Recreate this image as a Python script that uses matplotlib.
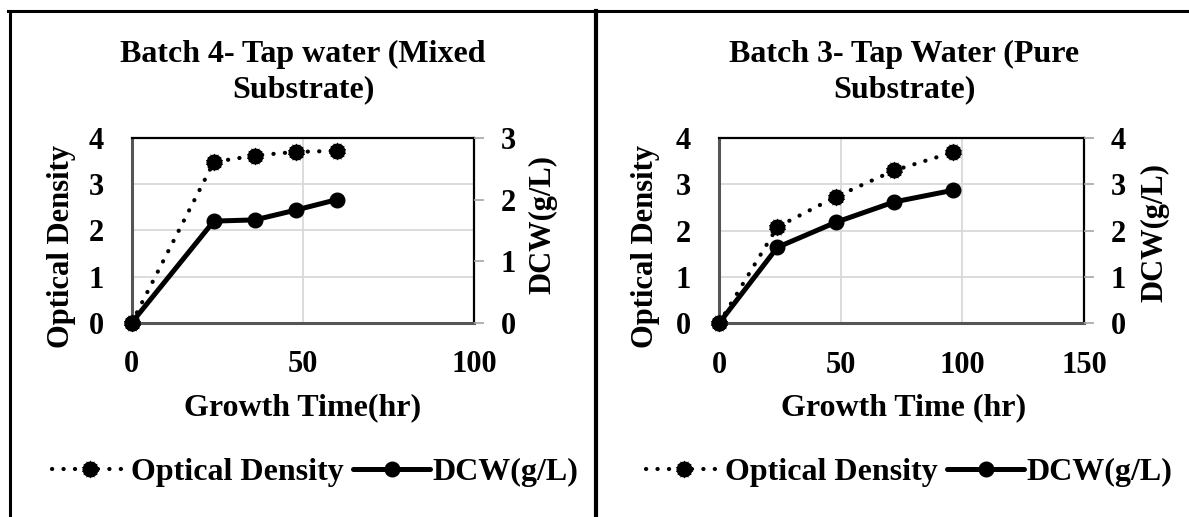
import matplotlib
matplotlib.use("Agg")
import matplotlib.pyplot as plt
from matplotlib.lines import Line2D

plt.rcParams['font.family'] = ['Liberation Serif', 'DejaVu Serif']
plt.rcParams['font.weight'] = 'bold'

# ---------------- data ----------------
time_b4 = [0, 24, 36, 48, 60]
od_b4 = [0, 3.48, 3.62, 3.70, 3.72]
dcw_b4 = [0, 1.65, 1.67, 1.83, 2.00]

time_b3 = [0, 24, 48, 72, 96]
od_b3 = [0, 2.08, 2.73, 3.30, 3.69]
dcw_b3 = [0, 1.64, 2.18, 2.62, 2.87]

title_b4 = ["Batch 4- Tap water (Mixed", "Substrate)"]
title_b3 = ["Batch 3- Tap Water (Pure", "Substrate)"]
xlabel_b4 = "Growth Time(hr)"
xlabel_b3 = "Growth Time (hr)"
od_label = "Optical Density"
dcw_label = "DCW(g/L)"

W, H = 1189, 517
fig = plt.figure(figsize=(W / 100, H / 100), dpi=100)


def fx(x):
    return x / W


def fy(y):
    return 1 - y / H


TICK_FS = 22
LAB_FS = 23
ROT_FS = 22
TITLE_FS = 23

od_line = dict(color='black', lw=3.0, linestyle=(0, (0.05, 2.7)),
               dash_capstyle='round', marker='o', ms=10.5, mfc='black',
               mec='black', clip_on=False)
od_star = dict(color='black', linestyle='none', marker=(14, 1, 0), ms=12.5,
               mfc='black', mec='black', mew=0.4, clip_on=False)
dcw_style = dict(color='black', lw=3.6, linestyle='-', marker='o', ms=10.5,
                 mfc='black', mec='black', clip_on=False,
                 solid_capstyle='round')


def panel(x0, x1, y0, y1, t, od, dcw, xmax, rmax, titles, xlabel, cx,
          ylab_x, ylab_y, rlab_x, rlab_y, leg_cx):
    ax = fig.add_axes([fx(x0), fy(y1), fx(x1 - x0), (y1 - y0) / H])
    ax.set_xlim(0, xmax)
    ax.set_ylim(0, 4)
    ax.set_xticks(list(range(0, xmax + 1, 50)))
    ax.set_yticks([0, 1, 2, 3, 4])
    ax.grid(True, color='#d9d9d9', lw=1.3)
    ax.set_axisbelow(True)
    ax.tick_params(axis='y', length=0, pad=20, labelsize=TICK_FS)
    ax.tick_params(axis='x', length=0, pad=20, labelsize=TICK_FS)
    for s in ['left', 'bottom']:
        ax.spines[s].set_color('#555555')
        ax.spines[s].set_linewidth(2.2)
    for s in ['top', 'right']:
        ax.spines[s].set_color('black')
        ax.spines[s].set_linewidth(1.6)
    ax.plot(t, od, zorder=3, **od_line)
    ax.plot(t, od, zorder=3, **od_star)

    axr = ax.twinx()
    axr.set_ylim(0, rmax)
    axr.set_yticks(list(range(0, rmax + 1)))
    axr.tick_params(axis='y', length=7, width=1.2, color='#a6a6a6',
                    direction='out', pad=12, labelsize=TICK_FS)
    for s in axr.spines.values():
        s.set_visible(False)
    axr.plot(t, dcw, zorder=4, **dcw_style)

    for lab in ax.get_xticklabels() + ax.get_yticklabels() + axr.get_yticklabels():
        lab.set_fontweight('bold')

    fig.text(fx(cx), fy(62), titles[0], ha='center', va='baseline',
             fontsize=TITLE_FS, fontweight='bold')
    fig.text(fx(cx), fy(97), titles[1], ha='center', va='baseline',
             fontsize=TITLE_FS, fontweight='bold')
    fig.text(fx(cx), fy(415), xlabel, ha='center', va='baseline',
             fontsize=LAB_FS, fontweight='bold')
    fig.text(fx(ylab_x), fy(ylab_y), od_label, ha='center', va='center',
             rotation=90, fontsize=ROT_FS, fontweight='bold')
    fig.text(fx(rlab_x), fy(rlab_y), dcw_label, ha='center', va='center',
             rotation=90, fontsize=ROT_FS, fontweight='bold')

    h1 = (Line2D([], [], **od_line), Line2D([], [], **od_star))
    h2 = Line2D([], [], **dcw_style)
    fig.legend([h1, h2], [od_label, dcw_label], loc='center',
               bbox_to_anchor=(fx(leg_cx), fy(472)), ncol=2, frameon=False,
               handlelength=2.4, handletextpad=0.08,
               columnspacing=0.3, numpoints=1,
               prop={'weight': 'bold', 'size': LAB_FS})
    return ax, axr


panel(131.7, 474, 138, 322.7, time_b4, od_b4, dcw_b4, 100, 3, title_b4,
      xlabel_b4, 303, 61, 247, 543, 225, 315)
panel(719, 1084, 138, 323.3, time_b3, od_b3, dcw_b3, 150, 4, title_b3,
      xlabel_b3, 904, 646, 247, 1155, 232, 909)

# outer table borders
fig.add_artist(Line2D([fx(8), fx(1189)], [fy(10.5), fy(10.5)], color='black',
                      lw=2.2, transform=fig.transFigure))
fig.add_artist(Line2D([fx(10), fx(10)], [fy(10.5), fy(517)], color='black',
                      lw=2.2, transform=fig.transFigure))
fig.add_artist(Line2D([fx(595.5), fx(595.5)], [fy(10.5), fy(517)],
                      color='black', lw=3.0, transform=fig.transFigure))

fig.savefig("out.png", dpi=100)
